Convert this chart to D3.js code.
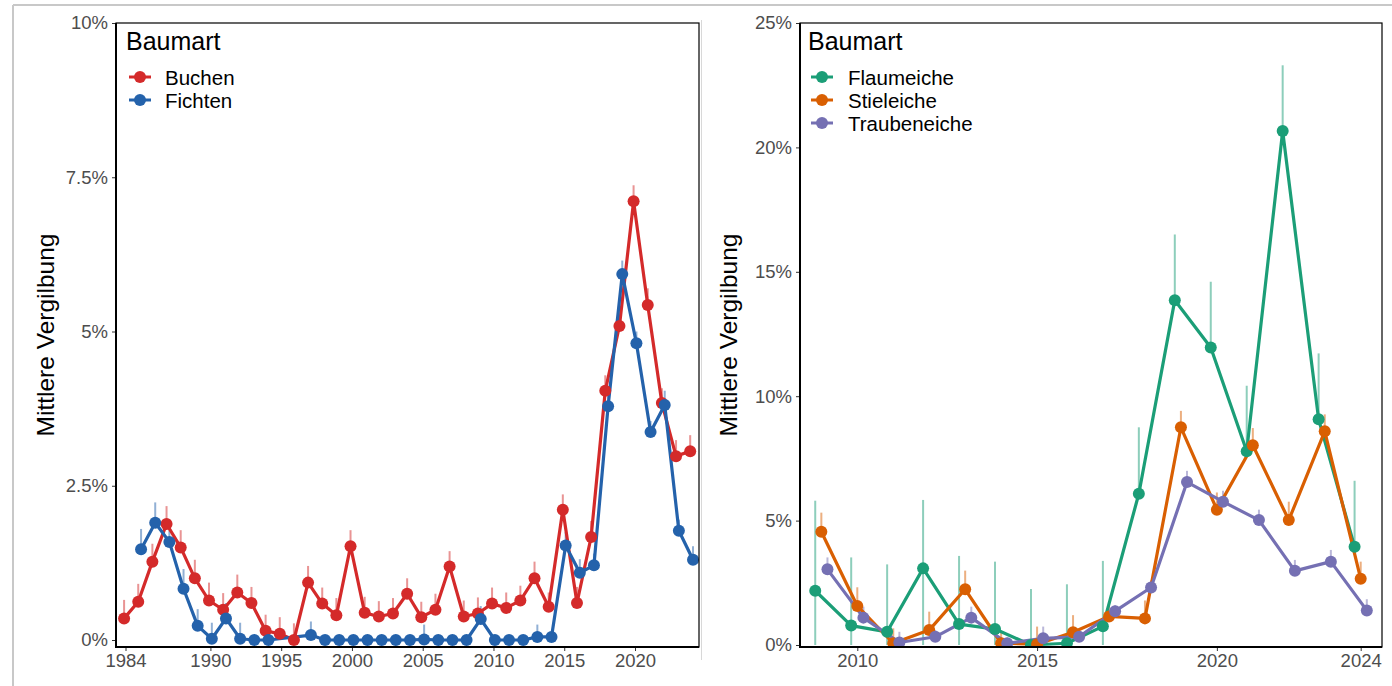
<!DOCTYPE html>
<html>
<head>
<meta charset="utf-8">
<script src="https://cdn.jsdelivr.net/npm/d3@7"></script>
<style>
  html, body { margin: 0; padding: 0; background: #fff; }
  svg { display: block; font-family: "Liberation Sans", Arial, sans-serif; }
</style>
</head>
<body>
<svg id="chart" width="1392" height="686"></svg>
<script>
// ---------------- DATA ----------------
// Left panel (Buchen / Fichten), values in %
const buchenYears = [1984,1985,1986,1987,1988,1989,1990,1991,1992,1993,1994,1995,1996,1997,1998,1999,2000,2001,2002,2003,2004,2005,2006,2007,2008,2009,2010,2011,2012,2013,2014,2015,2016,2017,2018,2019,2020,2021,2022,2023,2024];
const buchenValues = [0.35,0.62,1.27,1.88,1.50,1.00,0.64,0.49,0.77,0.60,0.15,0.10,0.00,0.93,0.59,0.40,1.52,0.44,0.38,0.43,0.75,0.37,0.49,1.19,0.38,0.43,0.59,0.52,0.64,1.00,0.54,2.11,0.60,1.67,4.04,5.09,7.11,5.43,3.84,2.98,3.06];
const buchenUpper  = [0.65,0.91,1.56,2.17,1.78,1.30,0.93,0.76,1.06,0.86,0.41,0.37,0.27,1.20,0.85,0.68,1.78,0.70,0.63,0.68,1.00,0.62,0.75,1.44,0.64,0.69,0.85,0.77,0.88,1.27,0.77,2.36,0.86,1.93,4.29,5.35,7.37,5.70,4.08,3.24,3.32];

const fichtenYears = [1985,1986,1987,1988,1989,1990,1991,1992,1993,1994,1997,1998,1999,2000,2001,2002,2003,2004,2005,2006,2007,2008,2009,2010,2011,2012,2013,2014,2015,2016,2017,2018,2019,2020,2021,2022,2023,2024];
const fichtenValues = [1.47,1.90,1.59,0.83,0.23,0.02,0.35,0.02,0.00,0.00,0.08,0.00,0.00,0.00,0.00,0.00,0.00,0.00,0.01,0.00,0.00,0.00,0.34,0.00,0.00,0.00,0.05,0.05,1.53,1.09,1.21,3.79,5.93,4.81,3.37,3.81,1.77,1.30];
const fichtenUpper  = [1.80,2.23,1.78,1.15,0.50,0.28,0.60,0.28,0.05,0.05,0.30,0.05,0.05,0.05,0.05,0.05,0.05,0.05,0.25,0.05,0.05,0.05,0.55,0.05,0.05,0.05,0.25,0.05,1.75,1.31,1.40,4.00,6.15,5.00,3.55,4.04,1.95,1.52];

// Right panel (Eichen), values in %
const eichenYears = [2009,2010,2011,2012,2013,2014,2015,2016,2017,2018,2019,2020,2021,2022,2023,2024];
const flaumValues = [2.18,0.78,0.53,3.08,0.84,0.64,0.00,0.07,0.75,6.08,13.86,11.96,7.79,20.66,9.07,3.95];
const flaumUpper  = [5.80,3.52,3.24,5.83,3.58,3.35,2.25,2.44,3.38,8.75,16.50,14.60,10.42,23.30,11.72,6.60];
const flaumLower  = [0,0,0,0,0,0,0,0,0,6.08,13.86,11.96,7.79,20.66,9.07,3.95];
const stielValues = [4.55,1.57,0.07,0.60,2.24,0.07,0.03,0.51,1.15,1.07,8.75,5.44,8.03,5.02,8.59,2.66];
const stielUpper  = [5.32,2.32,0.67,1.34,2.99,0.50,0.74,1.20,1.60,1.79,9.41,6.13,8.72,5.76,9.27,3.35];
const traubenValues = [3.04,1.10,0.10,0.33,1.10,0.07,0.27,0.33,1.36,2.31,6.55,5.76,5.02,2.98,3.35,1.39];
const traubenUpper  = [3.52,1.54,0.53,0.60,1.54,0.30,0.74,0.60,1.60,2.60,7.00,6.20,5.44,3.42,3.82,1.84];

// Ticks
const leftYTicks = [0, 2.5, 5, 7.5, 10];
const leftYTickLabels = ["0%", "2.5%", "5%", "7.5%", "10%"];
const leftXTicks = [1984, 1990, 1995, 2000, 2005, 2010, 2015, 2020];
const rightYTicks = [0, 5, 10, 15, 20, 25];
const rightYTickLabels = ["0%", "5%", "10%", "15%", "20%", "25%"];
const rightXTicks = [2010, 2015, 2020, 2024];

const legendTitle = "Baumart";
const yTitle = "Mittlere Vergilbung";

// ---------------- DRAW ----------------
const svg = d3.select("#chart");

// outer page frame
svg.append("line").attr("x1", 13).attr("x2", 1392).attr("y1", 5).attr("y2", 5)
  .attr("stroke", "#c8c8c8").attr("stroke-width", 2);
svg.append("line").attr("x1", 13).attr("x2", 13).attr("y1", 5).attr("y2", 686)
  .attr("stroke", "#c8c8c8").attr("stroke-width", 2);
svg.append("line").attr("x1", 701.5).attr("x2", 701.5).attr("y1", 20).attr("y2", 660)
  .attr("stroke", "#d8d8d8").attr("stroke-width", 1);

function drawPanel(cfg) {
  const g = svg.append("g");
  const x = d3.scaleLinear().domain(cfg.xDomain).range(cfg.xRange);
  const y = d3.scaleLinear().domain(cfg.yDomain).range(cfg.yRange);
  const b = cfg.box;
  const clipId = "clip" + cfg.id;
  svg.append("clipPath").attr("id", clipId).append("rect")
    .attr("x", b.x0).attr("y", b.y0).attr("width", b.x1 - b.x0).attr("height", b.y1 - b.y0);

  const plot = g.append("g").attr("clip-path", `url(#${clipId})`);

  // error bars
  cfg.series.forEach(s => {
    plot.append("g").selectAll("line").data(s.years.map((yr, i) => ({
      yr, v: s.values[i], hi: s.upper[i], lo: s.lower ? s.lower[i] : s.values[i]
    }))).join("line")
      .attr("x1", d => x(d.yr + s.dodge)).attr("x2", d => x(d.yr + s.dodge))
      .attr("y1", d => y(d.lo)).attr("y2", d => y(d.hi))
      .attr("stroke", s.color).attr("stroke-opacity", 0.5).attr("stroke-width", 2);
  });
  // lines
  cfg.series.forEach(s => {
    const pts = s.years.map((yr, i) => [yr + s.dodge, s.values[i]]);
    plot.append("path").datum(pts)
      .attr("d", d3.line().x(d => x(d[0])).y(d => y(d[1])))
      .attr("fill", "none").attr("stroke", s.color).attr("stroke-width", 3.2)
      .attr("stroke-linejoin", "round");
  });
  // points
  cfg.series.forEach(s => {
    plot.append("g").selectAll("circle").data(s.years.map((yr, i) => [yr + s.dodge, s.values[i]]))
      .join("circle")
      .attr("cx", d => x(d[0])).attr("cy", d => y(d[1])).attr("r", 6)
      .attr("fill", s.color);
  });

  // axes
  const yAxis = d3.axisLeft(y).tickValues(cfg.yTicks)
    .tickFormat((d, i) => cfg.yTickLabels[i]).tickSize(4).tickPadding(4);
  const ya = g.append("g").attr("transform", `translate(${b.x0},0)`).call(yAxis);
  const xAxis = d3.axisBottom(x).tickValues(cfg.xTicks).tickFormat(d3.format("d"))
    .tickSize(4).tickPadding(3);
  const xa = g.append("g").attr("transform", `translate(0,${b.y1})`).call(xAxis);
  [ya, xa].forEach(a => {
    a.select(".domain").remove();
    a.selectAll(".tick line").attr("stroke", "#333").attr("stroke-width", 1);
    a.selectAll(".tick text").attr("fill", "#4d4d4d")
      .style("font-size", "18.5px").style("font-family", "Liberation Sans, Arial, sans-serif");
  });

  // box
  g.append("rect").attr("x", b.x0).attr("y", b.y0).attr("width", b.x1 - b.x0).attr("height", b.y1 - b.y0)
    .attr("fill", "none").attr("stroke", "#000").attr("stroke-width", 1.2);
  g.append("path").attr("d", `M${b.x0},${b.y0}V${b.y1}H${b.x1}`)
    .attr("fill", "none").attr("stroke", "#000").attr("stroke-width", 2);

  // y title
  g.append("text").attr("transform", `translate(${cfg.yTitleX},${cfg.yTitleY}) rotate(-90)`)
    .attr("text-anchor", "middle").attr("dominant-baseline", "central")
    .style("font-size", "24.5px").attr("fill", "#000").text(yTitle);

  // legend
  const lg = g.append("g");
  lg.append("text").attr("x", cfg.legend.x).attr("y", cfg.legend.titleY)
    .style("font-size", "25px").attr("fill", "#000").text(legendTitle);
  cfg.series.forEach((s, i) => {
    const cy = cfg.legend.firstY + i * 23;
    lg.append("line").attr("x1", cfg.legend.keyX - 11).attr("x2", cfg.legend.keyX + 11)
      .attr("y1", cy).attr("y2", cy).attr("stroke", s.color).attr("stroke-width", 3);
    lg.append("circle").attr("cx", cfg.legend.keyX).attr("cy", cy).attr("r", 6).attr("fill", s.color);
    lg.append("text").attr("x", cfg.legend.labelX).attr("y", cy).attr("dominant-baseline", "central")
      .style("font-size", "20.5px").attr("fill", "#000").text(s.name);
  });
}

drawPanel({
  id: "L",
  xDomain: [1984, 2020], xRange: [125.5, 635],
  yDomain: [0, 10], yRange: [640, 23],
  box: { x0: 116, x1: 699, y0: 23, y1: 647 },
  yTicks: leftYTicks, yTickLabels: leftYTickLabels, xTicks: leftXTicks,
  yTitleX: 45, yTitleY: 335,
  legend: { x: 126, titleY: 50, keyX: 140, labelX: 165, firstY: 77 },
  series: [
    { name: "Buchen", color: "#d42a2a", years: buchenYears, values: buchenValues, upper: buchenUpper, dodge: -0.1 },
    { name: "Fichten", color: "#2462ab", years: fichtenYears, values: fichtenValues, upper: fichtenUpper, dodge: 0.1 }
  ]
});

drawPanel({
  id: "R",
  xDomain: [2010, 2024], xRange: [857.3, 1360.7],
  yDomain: [0, 25], yRange: [645, 23],
  box: { x0: 800, x1: 1382, y0: 23, y1: 647 },
  yTicks: rightYTicks, yTickLabels: rightYTickLabels, xTicks: rightXTicks,
  yTitleX: 728, yTitleY: 335,
  legend: { x: 808, titleY: 50, keyX: 822, labelX: 848, firstY: 77 },
  series: [
    { name: "Flaumeiche", color: "#1b9e77", years: eichenYears, values: flaumValues, upper: flaumUpper, lower: flaumLower, dodge: -0.17 },
    { name: "Stieleiche", color: "#d95f02", years: eichenYears, values: stielValues, upper: stielUpper, dodge: 0 },
    { name: "Traubeneiche", color: "#7570b3", years: eichenYears, values: traubenValues, upper: traubenUpper, dodge: 0.17 }
  ]
});
</script>
</body>
</html>
